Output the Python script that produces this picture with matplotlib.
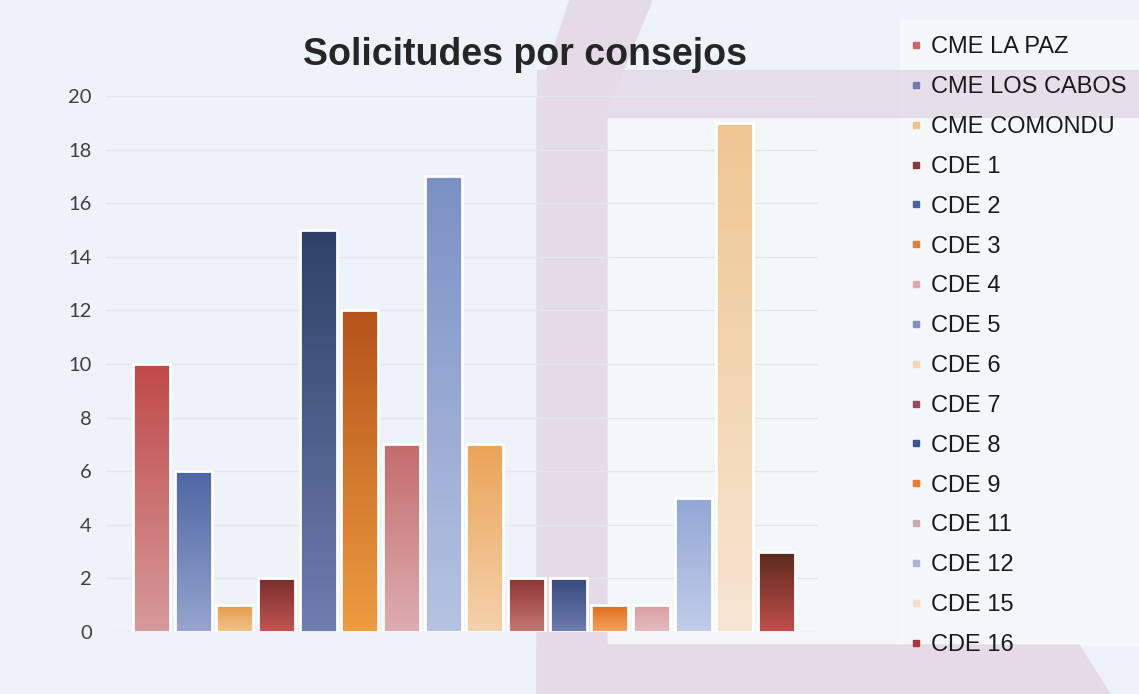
import matplotlib
matplotlib.use("Agg")
import matplotlib.pyplot as plt
import numpy as np
from matplotlib.colors import LinearSegmentedColormap
from matplotlib.lines import Line2D
from matplotlib.patches import Polygon

# datos
consejos = ["CME LA PAZ", "CME LOS CABOS", "CME COMONDU", "CDE 1", "CDE 2", "CDE 3",
            "CDE 4", "CDE 5", "CDE 6", "CDE 7", "CDE 8", "CDE 9", "CDE 11",
            "CDE 12", "CDE 15", "CDE 16"]
solicitudes = [10, 6, 1, 2, 15, 12, 7, 17, 7, 2, 2, 1, 1, 5, 19, 3]
yticks = [0, 2, 4, 6, 8, 10, 12, 14, 16, 18, 20]

# colores (arriba, abajo) de cada barra
col_arriba = ["#bf4a48", "#4d66a4", "#e89a48", "#7a2e2c", "#2e4166", "#b5531a",
              "#c46c6c", "#7b90c4", "#eba458", "#8e3534", "#384a7c", "#e06a18",
              "#d89ea0", "#93a7d4", "#efc690", "#5a2a1e"]
col_abajo = ["#d69a9c", "#97a5cf", "#f0c58e", "#c25552", "#6f7db0", "#ee9c40",
             "#ddaeb2", "#b6c3e2", "#f4d2ab", "#c67876", "#6e7cad", "#f3a764",
             "#e6bcc0", "#c2cdea", "#f7e6d4", "#c24e4c"]
col_legenda = ["#c9676a", "#6f7bb0", "#efc48a", "#8a3440", "#4d5fa0", "#e0803a",
               "#e0a7ad", "#7e8fc0", "#f0d6b8", "#9a4a58", "#3f5590", "#ef7a30",
               "#c9a9b0", "#a9b4dc", "#f6dccd", "#a8353c"]

W, H = 1139, 694
fig = plt.figure(figsize=(W / 100, H / 100), dpi=100)

# fondo de la diapositiva
bg = fig.add_axes([0, 0, 1, 1], zorder=0)
bg.set_xlim(0, W)
bg.set_ylim(H, 0)
bg.axis("off")
bg.add_patch(Polygon([(0, 0), (W, 0), (W, H), (0, H)], color="#edf3f8"))
bg.add_patch(Polygon([(607, 117), (905, 117), (905, 645), (607, 645)], color="#f3f7fa"))
bg.add_patch(Polygon([(900, 20), (W, 20), (W, 645), (900, 645)], color="#f4f8fb"))
morado = "#e4dbe6"
bg.add_patch(Polygon([(570, 0), (652, 0), (607, 110), (607, H), (537, H), (537, 100)], color=morado))
bg.add_patch(Polygon([(537, 70), (W, 70), (W, 117), (537, 117)], color=morado, alpha=0.85))
bg.add_patch(Polygon([(537, 645), (1079, 645), (1110, H), (537, H)], color=morado))

# grafica
ax = fig.add_axes([105.7 / W, 1 - 632 / H, 712.5 / W, 536 / H], zorder=1)
ax.patch.set_alpha(0)
x = np.arange(len(consejos))
barras = ax.bar(x, solicitudes, width=0.89, color="none", edgecolor="white", linewidth=2, zorder=3)
for i, b in enumerate(barras):
    cmap = LinearSegmentedColormap.from_list("g%d" % i, [col_arriba[i], col_abajo[i]])
    grad = np.linspace(0, 1, 256).reshape(-1, 1)
    im = ax.imshow(grad, cmap=cmap, aspect="auto", zorder=2,
                   extent=[b.get_x(), b.get_x() + b.get_width(), 0, b.get_height()])
    im.set_clip_path(b)

ax.set_xlim(-1.1, 16.0)
ax.set_ylim(0, 20)
ax.set_yticks(yticks)
ax.set_yticklabels([str(t) for t in yticks], fontfamily="Lato", fontsize=14.5, color="#404040")
ax.set_xticks([])
ax.tick_params(axis="y", length=0, pad=10)
ax.grid(axis="y", color="#e2e6eb", linewidth=1, zorder=1)
for s in ax.spines.values():
    s.set_visible(False)

fig.text(525 / W, 1 - 55 / H, "Solicitudes por consejos", ha="center", va="center",
         fontfamily="Liberation Sans", fontweight="bold", fontsize=27, color="#262626")

handles = [Line2D([], [], marker="s", linestyle="none", markersize=5,
                  markerfacecolor=c, markeredgecolor=c) for c in col_legenda]
fig.legend(handles, consejos, loc="upper left", bbox_to_anchor=(899 / W, 1 - 27 / H),
           frameon=False, prop={"family": "Liberation Sans", "size": 17},
           handlelength=0.6, handletextpad=0.35, labelspacing=0.755, borderaxespad=0,
           labelcolor="#1a1a1a")

fig.savefig("out.png", dpi=100)
